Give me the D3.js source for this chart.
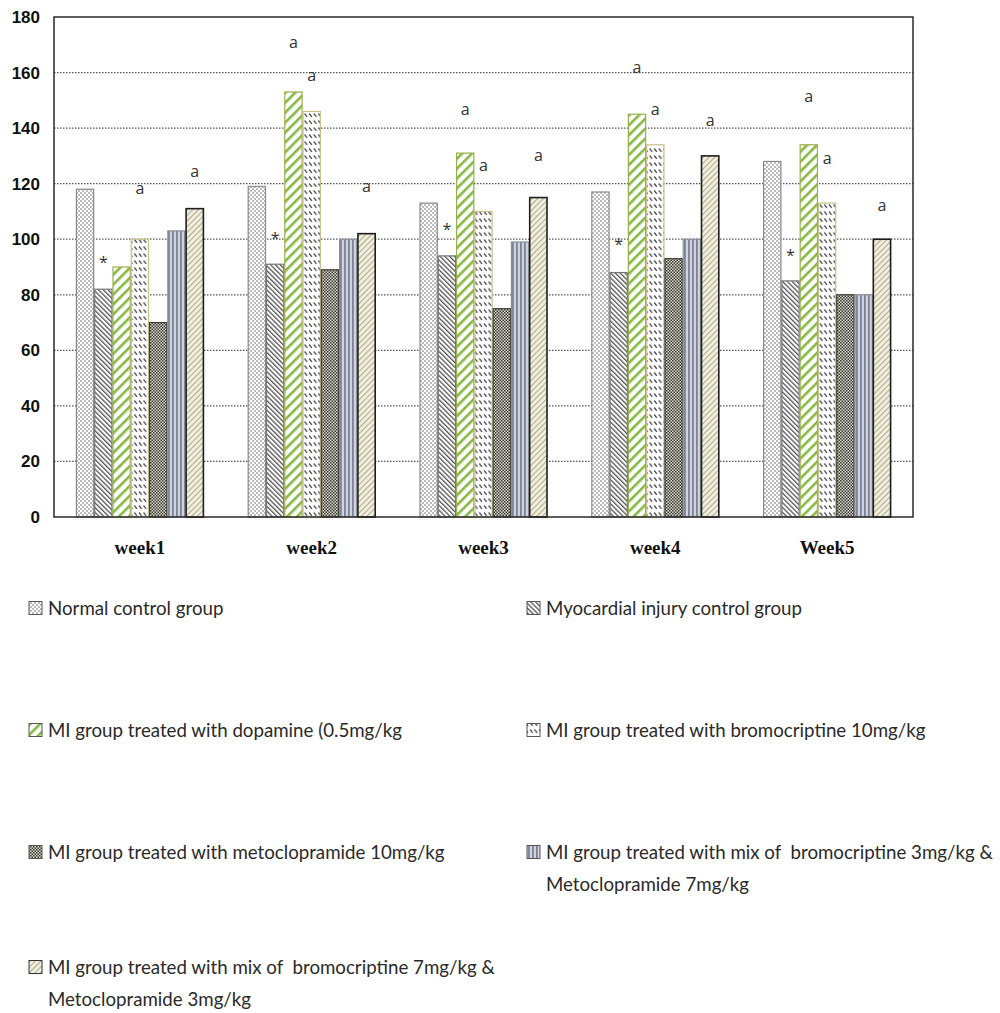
<!DOCTYPE html>
<html>
<head>
<meta charset="utf-8">
<script src="https://cdn.jsdelivr.net/npm/d3@7/dist/d3.min.js"></script>
<style>
  html, body { margin: 0; padding: 0; background: #fff; }
  svg { display: block; }
  .legend text { white-space: pre; }
</style>
</head>
<body>
<svg id="chart" width="1000" height="1013"></svg>
<script>
// Weekly measurements per treatment group
const weeks = ["week1", "week2", "week3", "week4", "Week5"];
const seriesNames = [
  "Normal control group",
  "Myocardial injury control group",
  "MI group treated with dopamine (0.5mg/kg",
  "MI group treated with bromocriptine 10mg/kg",
  "MI group treated with metoclopramide 10mg/kg",
  "MI group treated with mix of  bromocriptine 3mg/kg &\nMetoclopramide 7mg/kg",
  "MI group treated with mix of  bromocriptine 7mg/kg &\nMetoclopramide 3mg/kg"
];
const normalControl   = [118, 119, 113, 117, 128];
const injuryControl   = [82, 91, 94, 88, 85];
const dopamine        = [90, 153, 131, 145, 134];
const bromocriptine   = [100, 146, 110, 134, 113];
const metoclopramide  = [70, 89, 75, 93, 80];
const mixBromo3Meto7  = [103, 100, 99, 100, 80];
const mixBromo7Meto3  = [111, 102, 115, 130, 100];
const seriesValues = [normalControl, injuryControl, dopamine, bromocriptine,
                      metoclopramide, mixBromo3Meto7, mixBromo7Meto3];
const yTicks = [0, 20, 40, 60, 80, 100, 120, 140, 160, 180];

// Significance marks: the level (in axis units) at which each mark sits
const starLevels   = [91.5, 100.3, 103.6, 98, 94.3];            // "*" over injury control
const aDopamine    = [null, 171, 146.8, 162, 151.5];            // "a" over dopamine
const aBromo       = [118.3, 158.8, 126.4, 146.7, 129];          // "a" over bromocriptine
const aMix73       = [124.3, 118.9, 130.3, 142.9, 112.2];        // "a" over mix 7/3

const svg = d3.select("#chart");
const defs = svg.append("defs");

// ---- fill patterns ----
function pat(id, w, h, transform) {
  const p = defs.append("pattern").attr("id", id)
    .attr("patternUnits", "userSpaceOnUse").attr("width", w).attr("height", h);
  if (transform) p.attr("patternTransform", transform);
  return p;
}
// dotted
let p = pat("p0", 4, 4);
p.append("rect").attr("width", 4).attr("height", 4).attr("fill", "#fff");
p.append("circle").attr("cx", 1).attr("cy", 1).attr("r", 0.8).attr("fill", "#666");
p.append("circle").attr("cx", 3).attr("cy", 3).attr("r", 0.8).attr("fill", "#666");
// dense back-diagonal hatch
p = pat("p1", 3.4, 3.4, "rotate(-45)");
p.append("rect").attr("width", 3.4).attr("height", 3.4).attr("fill", "#fff");
p.append("rect").attr("width", 1.3).attr("height", 3.4).attr("fill", "#555");
// wide green forward-diagonal stripes
p = pat("p2", 7, 7, "rotate(45)");
p.append("rect").attr("width", 7).attr("height", 7).attr("fill", "#fff");
p.append("rect").attr("width", 2.6).attr("height", 7).attr("fill", "#86b943");
// rows of short dashes
p = pat("p3", 4.6, 7);
p.append("rect").attr("width", 4.6).attr("height", 7).attr("fill", "#fff");
p.append("line").attr("x1", 1).attr("y1", 1.5).attr("x2", 3.6).attr("y2", 4.8)
  .attr("stroke", "#4a4a4a").attr("stroke-width", 1.3);
// dark checker
p = pat("p4", 3, 3);
p.append("rect").attr("width", 3).attr("height", 3).attr("fill", "#deded4");
p.append("rect").attr("width", 1.5).attr("height", 1.5).attr("fill", "#333329");
p.append("rect").attr("x", 1.5).attr("y", 1.5).attr("width", 1.5).attr("height", 1.5).attr("fill", "#333329");
// vertical stripes
p = pat("p5", 4, 4);
p.append("rect").attr("width", 4).attr("height", 4).attr("fill", "#cfd3dd");
p.append("rect").attr("width", 1.8).attr("height", 4).attr("fill", "#7d8394");
// thin khaki forward diagonal
p = pat("p6", 4, 4, "rotate(45)");
p.append("rect").attr("width", 4).attr("height", 4).attr("fill", "#f1efe2");
p.append("rect").attr("width", 1.1).attr("height", 4).attr("fill", "#b4ad88");

const outlines = ["#8a8a8a", "#777", "#9aae4a", "#c9c08a", "#3e3e32", "#8a8e98", "#1e1e1e"];

// ---- scales ----
const plotLeft = 54, plotRight = 913, plotTop = 17, plotBottom = 517;
const x0 = d3.scaleBand().domain(weeks).range([plotLeft, plotRight])
  .paddingInner(0.255).paddingOuter(0.1275);
const x1 = d3.scaleBand().domain(d3.range(seriesNames.length)).range([0, x0.bandwidth()]);
const y = d3.scaleLinear().domain([0, 180]).range([plotBottom, plotTop]);

// gridlines
svg.append("g").selectAll("line").data(yTicks.filter(t => t > 0 && t < 180)).join("line")
  .attr("x1", plotLeft).attr("x2", plotRight)
  .attr("y1", d => y(d)).attr("y2", d => y(d))
  .attr("stroke", "#555").attr("stroke-width", 1.2).attr("stroke-dasharray", "1.5,1.5");

// bars
const groups = svg.append("g").selectAll("g").data(seriesValues).join("g")
  .attr("fill", (d, i) => `url(#p${i})`)
  .attr("stroke", (d, i) => outlines[i]);
groups.each(function (vals, si) {
  d3.select(this).selectAll("rect").data(vals).join("rect")
    .attr("x", (v, wi) => x0(weeks[wi]) + x1(si) + 0.5)
    .attr("y", v => y(v))
    .attr("width", x1.bandwidth() - 1)
    .attr("height", v => y(0) - y(v))
    .attr("stroke-width", si === 6 ? 1.6 : 1.2);
});

// plot frame
svg.append("rect").attr("x", plotLeft).attr("y", plotTop)
  .attr("width", plotRight - plotLeft).attr("height", plotBottom - plotTop)
  .attr("fill", "none").attr("stroke", "#2a2a2a").attr("stroke-width", 1.5);

// y axis labels
const yAxis = svg.append("g").attr("transform", `translate(${plotLeft},0)`)
  .call(d3.axisLeft(y).tickValues(yTicks).tickSize(0).tickPadding(14));
yAxis.select(".domain").remove();
yAxis.selectAll("text").attr("font-family", "Liberation Sans, Arial, sans-serif")
  .attr("font-weight", "bold").attr("font-size", 17).attr("fill", "#111");

// x category labels
svg.append("g").selectAll("text").data(weeks).join("text")
  .attr("x", d => x0(d) + x0.bandwidth() / 2).attr("y", 554)
  .attr("text-anchor", "middle")
  .attr("font-family", "Liberation Serif, Times New Roman, serif")
  .attr("font-weight", "bold").attr("font-size", 19).attr("fill", "#111")
  .text(d => d);

// significance marks
function marks(levels, si, sym, size) {
  svg.append("g").selectAll("text").data(levels.map((l, wi) => ({ l, wi })).filter(d => d.l != null))
    .join("text")
    .attr("x", d => x0(weeks[d.wi]) + x1(si) + x1.bandwidth() / 2)
    .attr("y", d => y(d.l))
    .attr("dy", "0.35em")
    .attr("text-anchor", "middle")
    .attr("font-family", "Open Sans, sans-serif").attr("font-size", size).attr("fill", "#333")
    .text(sym);
}
marks(starLevels, 1, "*", 16);
marks(aDopamine, 2, "a", 16);
marks(aBromo, 3, "a", 16);
marks(aMix73, 6, "a", 16);

// legend
const legendPos = [
  [29, 608], [527, 608],
  [29, 730], [527, 730],
  [29, 852], [527, 852],
  [29, 967]
];
const legend = svg.append("g").attr("class", "legend");
seriesNames.forEach((name, i) => {
  const [lx, ly] = legendPos[i];
  legend.append("rect").attr("x", lx).attr("y", ly - 6.5).attr("width", 13).attr("height", 13)
    .attr("fill", `url(#p${i})`).attr("stroke", i === 6 ? "#333" : "#555").attr("stroke-width", 1);
  const t = legend.append("text").attr("x", lx + 19).attr("y", ly)
    .attr("font-family", "Lato, sans-serif").attr("font-size", 18.7).attr("fill", "#2a2a2a");
  name.split("\n").forEach((line, k) => {
    t.append("tspan").attr("x", lx + 19).attr("y", ly + k * 32).attr("dy", "0.35em").text(line);
  });
});
</script>
</body>
</html>
